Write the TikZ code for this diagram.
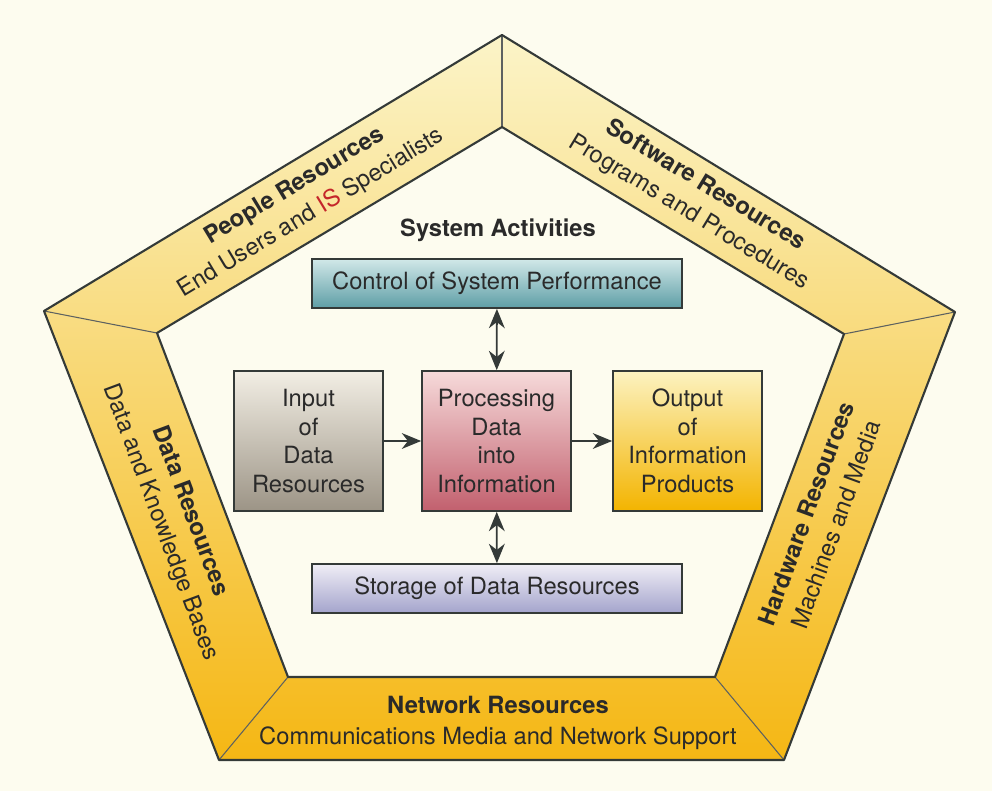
\documentclass[tikz,border=0pt]{standalone}
\usepackage{fontspec}
\setmainfont{TeX Gyre Heros}
\usepackage{xcolor}
\usetikzlibrary{arrows.meta,positioning,calc}

\definecolor{paper}{HTML}{FDFCEF}
\definecolor{ink}{HTML}{2A2A2A}
\definecolor{edge}{HTML}{343A38}
\definecolor{bandtop}{HTML}{FBF4C8}
\definecolor{bandmid}{HTML}{F8D86A}
\definecolor{bandbot}{HTML}{F5B714}
\definecolor{isred}{HTML}{C4262A}

\begin{document}
\begin{tikzpicture}[x=0.02cm, y=-0.02cm,
    font=\fontsize{13.5}{16.2}\selectfont, text=ink,
    actbox/.style={draw=edge, line width=1pt, rectangle, align=center, inner sep=0pt},
    bandlabel/.style={align=center, font=\fontsize{13.5}{18}\selectfont},
    seam/.style={draw=edge!80, line width=0.6pt},
    rim/.style={draw=edge, line width=1.2pt, line join=round},
    flow/.style={-{Stealth[length=11pt,width=9pt,inset=3.5pt]}, line width=1pt, draw=edge},
    twoway/.style={{Stealth[length=11pt,width=9pt,inset=3.5pt]}-{Stealth[length=11pt,width=9pt,inset=3.5pt]}, line width=1pt, draw=edge}]

  % Background
  \useasboundingbox[fill=paper] (0,0) rectangle (992,791);

  % Pentagon corners
  \coordinate (oT) at (502,35);
  \coordinate (oR) at (955,312);
  \coordinate (oBR) at (784,760);
  \coordinate (oBL) at (219,760);
  \coordinate (oL) at (44,311);
  \coordinate (iT) at (502,127);
  \coordinate (iR) at (844,334);
  \coordinate (iBR) at (715,677);
  \coordinate (iBL) at (288,677);
  \coordinate (iL) at (157,333);

  % Resource band
  \foreach \pa/\pb/\pc/\pd in {oL/oT/iT/iL, oT/oR/iR/iT, oR/oBR/iBR/iR, oBR/oBL/iBL/iBR, oBL/oL/iL/iBL} {
    \begin{scope}
      \clip (\pa) -- (\pb) -- (\pc) -- (\pd) -- cycle;
      \shade[top color=bandtop, middle color=bandmid, bottom color=bandbot] (0,35) rectangle (992,760);
    \end{scope}
  }
  \foreach \pa in {T,R,BR,BL,L}
    \draw[seam] (o\pa) -- (i\pa);
  \draw[rim] (oT) -- (oR) -- (oBR) -- (oBL) -- (oL) -- cycle;
  \draw[rim] (iT) -- (iR) -- (iBR) -- (iBL) -- (iL) -- cycle;

  % Band labels
  \node[bandlabel, rotate=31.2] (people) at (303,200)
    {\textbf{People Resources}\\End Users and \textcolor{isred}{IS} Specialists};
  \node[bandlabel, rotate=-31.3] (software) at (697,199)
    {\textbf{Software Resources}\\Programs and Procedures};
  \node[bandlabel, rotate=69.9] (hardware) at (821,519)
    {\textbf{Hardware Resources}\\Machines and Media};
  \node[bandlabel, rotate=-69.6] (data) at (175,517)
    {\textbf{Data Resources}\\Data and Knowledge Bases};
  \node[bandlabel] (network) at (498,723)
    {\textbf{Network Resources}\\Communications Media and Network Support};

  % System activities
  \node (title) at (498,230) {\textbf{System Activities}};
  \node[actbox, minimum width=7.4cm, minimum height=0.98cm, top color=teal!18!white, bottom color={rgb,255:red,94;green,158;blue,166}] (control) at (497,283.5)
    {Control of System Performance};
  \node[actbox, minimum width=2.98cm, minimum height=2.8cm, top color={rgb,255:red,242;green,238;blue,228}, bottom color={rgb,255:red,156;green,148;blue,134}] (input) at (308.5,441)
    {Input\\of\\Data\\Resources};
  \node[actbox, minimum width=2.98cm, minimum height=2.8cm, top color={rgb,255:red,246;green,218;blue,218}, bottom color={rgb,255:red,194;green,96;blue,110}] (process) at (496.5,441)
    {Processing\\Data\\into\\Information};
  \node[actbox, minimum width=2.98cm, minimum height=2.8cm, top color={rgb,255:red,252;green,242;blue,192}, bottom color={rgb,255:red,243;green,180;blue,0}] (output) at (687.5,441)
    {Output\\of\\Information\\Products};
  \node[actbox, minimum width=7.4cm, minimum height=0.98cm, top color={rgb,255:red,240;green,238;blue,246}, bottom color={rgb,255:red,164;green,164;blue,204}] (storage) at (497,588.5)
    {Storage of Data Resources};

  % Flow arrows
  \draw[flow] (input) -- (process);
  \draw[flow] (process) -- (output);
  \draw[twoway] (control) -- (process);
  \draw[twoway] (process) -- (storage);
\end{tikzpicture}
\end{document}
